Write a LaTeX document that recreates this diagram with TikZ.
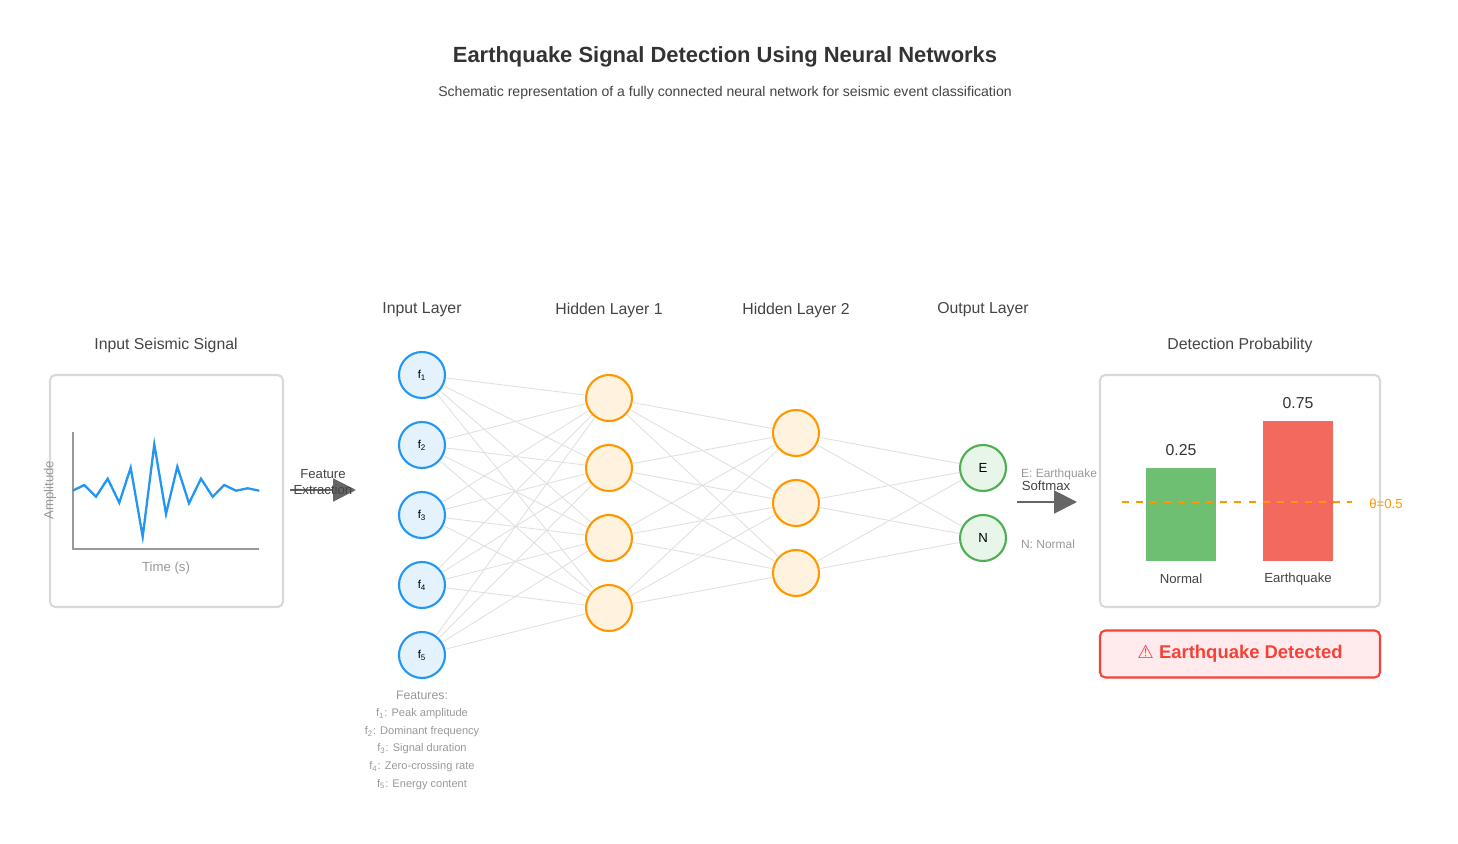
\documentclass[tikz,border=0pt]{standalone}
\usepackage{fontspec}
\setmainfont{Liberation Sans}
\newfontfamily\symfont{DejaVu Sans}
\usetikzlibrary{arrows.meta}
\definecolor{inblue}{HTML}{2196F3}
\definecolor{inblueF}{HTML}{E3F2FD}
\definecolor{hidor}{HTML}{FF9800}
\definecolor{hidorF}{HTML}{FFF3E0}
\definecolor{outgr}{HTML}{4CAF50}
\definecolor{outgrF}{HTML}{E8F5E9}
\definecolor{barred}{HTML}{F4695E}
\definecolor{bargreen}{HTML}{6FBF73}
\definecolor{alertred}{HTML}{F44336}
\definecolor{alertF}{HTML}{FFEBEE}
\definecolor{txt}{HTML}{444444}
\definecolor{lgray}{HTML}{999999}
\tikzset{
  neuron/.style={circle,minimum size=46*0.02cm,inner sep=0pt,line width=1.2pt},
  inneuron/.style={neuron,draw=inblue,fill=inblueF},
  hidneuron/.style={neuron,draw=hidor,fill=hidorF},
  outneuron/.style={neuron,draw=outgr,fill=outgrF},
  conn/.style={draw=black!12,line width=0.5pt},
  panel/.style={draw=black!15,line width=1.2pt,rounded corners=3pt,fill=white},
  layerlbl/.style={text=txt,font=\fontsize{9}{10}\selectfont},
  small/.style={text=lgray,font=\fontsize{6.3}{7.5}\selectfont},
  bigarrow/.style={draw=black!60,line width=1.2pt,-{Triangle[length=13pt,width=13pt]}}
}
\begin{document}
\begin{tikzpicture}[x=0.02cm,y=-0.02cm]
\useasboundingbox (0,0) rectangle (1458,844);

% title
\node[text=black!80,font=\bfseries\fontsize{12.5}{14}\selectfont] (title) at (725,57) {Earthquake Signal Detection Using Neural Networks};
\node[text=txt,font=\fontsize{8}{9}\selectfont] (subtitle) at (725,93) {Schematic representation of a fully connected neural network for seismic event classification};

% input signal panel
\node[layerlbl] (siglbl) at (166,345) {Input Seismic Signal};
\draw[panel] (50,375) rectangle (283,607);
\coordinate (ytop) at (73,432);
\coordinate (orig) at (73,549);
\coordinate (xend) at (259,549);
\draw[lgray,line width=0.6pt] (ytop) -- (orig) -- (xend);
\draw[inblue,line width=1.3pt] (72.7,490.7) -- (84.3,485) -- (96,496.7) -- (107.7,478.7) -- (119.3,502.7)
  -- (130.7,467.7) -- (142.7,536.7) -- (154.3,444.3) -- (166,514) -- (177.3,466.7) -- (189,503.3)
  -- (201,478.7) -- (212.7,496.7) -- (224.3,485) -- (236,490.7) -- (247.7,488.3) -- (259.3,490.7);
\node[text=lgray,font=\fontsize{7.5}{9}\selectfont] (timelbl) at (166,568) {Time (s)};
\node[text=lgray,font=\fontsize{7.5}{9}\selectfont,rotate=90] (amplbl) at (50,490) {Amplitude};

% feature extraction arrow
\coordinate (fa) at (290,490);
\coordinate (fb) at (356,490);
\draw[bigarrow] (fa) -- (fb);
\node[text=txt,font=\fontsize{7.5}{9}\selectfont,align=center] (featlbl) at (323,482) {Feature\\Extraction};

% layers
\node[layerlbl] (l0) at (422,310) {Input Layer};
\node[layerlbl] (l1) at (609,310) {Hidden Layer 1};
\node[layerlbl] (l2) at (796,310) {Hidden Layer 2};
\node[layerlbl] (l3) at (983,310) {Output Layer};

\foreach \i in {1,...,5}
  \node[inneuron,font=\fontsize{6.5}{7}\selectfont] (in\i) at (422,305+70*\i) {f\textsubscript{\i}};
\foreach \i in {1,...,4}
  \node[hidneuron] (ha\i) at (609,328+70*\i) {};
\foreach \i in {1,...,3}
  \node[hidneuron] (hb\i) at (796,363+70*\i) {};
\node[outneuron,font=\fontsize{7.5}{8}\selectfont] (outE) at (983,468) {E};
\node[outneuron,font=\fontsize{7.5}{8}\selectfont] (outN) at (983,538) {N};

\foreach \i in {1,...,5}
  \foreach \j in {1,...,4}
    \draw[conn] (in\i) -- (ha\j);
\foreach \i in {1,...,4}
  \foreach \j in {1,...,3}
    \draw[conn] (ha\i) -- (hb\j);
\foreach \i in {1,...,3}
  \foreach \j in {E,N}
    \draw[conn] (hb\i) -- (out\j);

% feature legend
\node[small,align=center,font=\fontsize{6.3}{10}\selectfont] (featlist) at (422,740) {\fontsize{7}{10}\selectfont Features:\\
f\textsubscript{1}: Peak amplitude\\ f\textsubscript{2}: Dominant frequency\\ f\textsubscript{3}: Signal duration\\
f\textsubscript{4}: Zero-crossing rate\\ f\textsubscript{5}: Energy content};

% output labels and softmax
\node[small,anchor=west,font=\fontsize{6.8}{8}\selectfont] (elbl) at (1015,474) {E: Earthquake};
\node[small,anchor=west,font=\fontsize{6.8}{8}\selectfont] (nlbl) at (1015,544) {N: Normal};
\coordinate (sa) at (1017,502);
\coordinate (sb) at (1077,502);
\draw[bigarrow] (sa) -- (sb);
\node[text=txt,font=\fontsize{7.5}{8.5}\selectfont] (smlbl) at (1046,486) {Softmax};

% probability panel
\node[layerlbl] (problbl) at (1240,345) {Detection Probability};
\draw[panel] (1100,375) rectangle (1380,607);
\fill[bargreen] (1146,468) rectangle (1216,561);
\fill[barred] (1263,421) rectangle (1333,561);
\node[text=black!80,font=\fontsize{9}{10}\selectfont] (v1) at (1181,450) {0.25};
\node[text=black!80,font=\fontsize{9}{10}\selectfont] (v2) at (1298,403) {0.75};
\node[text=txt,font=\fontsize{7.5}{9}\selectfont] (b1) at (1181,579) {Normal};
\node[text=txt,font=\fontsize{7.5}{9}\selectfont] (b2) at (1298,579) {Earthquake};
\coordinate (ta) at (1122,502);
\coordinate (tb) at (1352,502);
\draw[hidor,line width=1.1pt,dash pattern=on 4pt off 4pt] (ta) -- (tb);
\node[text=hidor,font=\fontsize{7.5}{9}\selectfont] (theta) at (1386,504) {θ=0.5};

% alert
\node[draw=alertred,fill=alertF,line width=1.2pt,rounded corners=3pt,minimum width=280*0.02cm,minimum height=47*0.02cm,
  text=alertred,font=\bfseries\fontsize{10.5}{12}\selectfont] (alert) at (1240,654) {{\symfont\mdseries ⚠} Earthquake Detected};
\end{tikzpicture}
\end{document}
